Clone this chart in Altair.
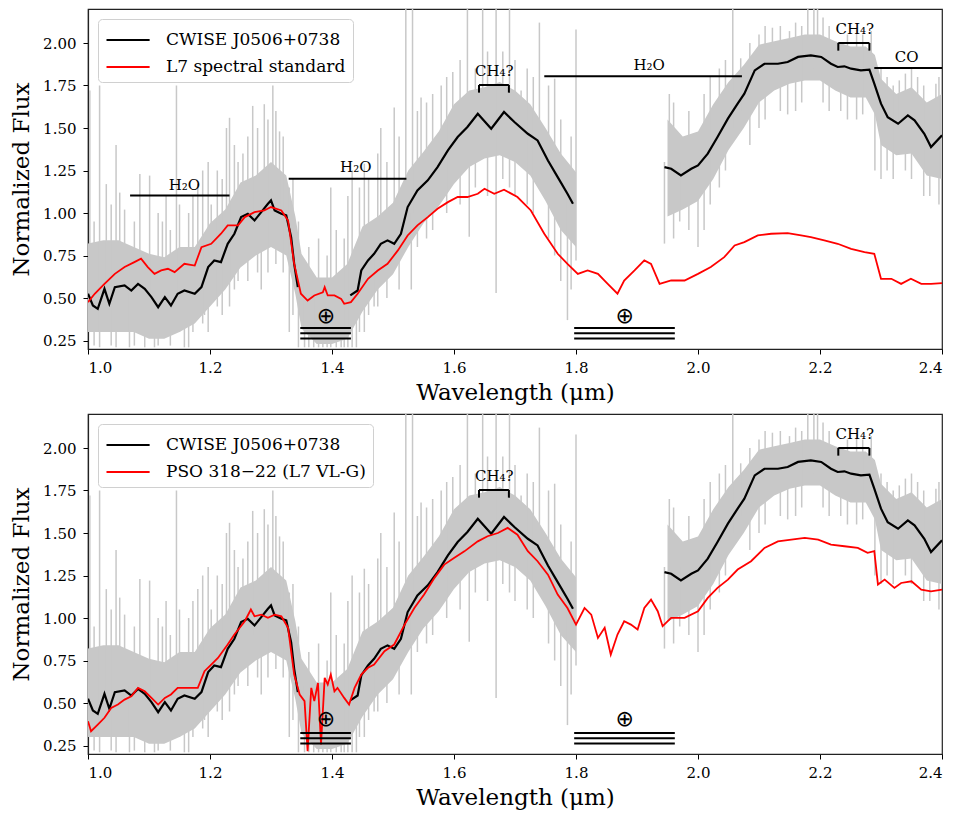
import altair as alt
import pandas as pd

FONT = "DejaVu Serif"

# ---------------- CWISE J0506+0738 (smoothed, black) ----------------
cw1_w = [1.000,1.008,1.016,1.027,1.035,1.044,1.060,1.071,1.082,1.093,1.104,1.115,1.126,1.136,1.147,1.158,1.175,1.186,1.197,1.207,1.218,1.229,1.240,1.251,1.262,1.273,1.284,1.295,1.300,1.306,1.317,1.325,1.333,1.338,1.344]
cw1_f = [0.525,0.456,0.436,0.554,0.466,0.564,0.574,0.544,0.583,0.554,0.505,0.446,0.505,0.456,0.525,0.544,0.525,0.564,0.682,0.721,0.711,0.819,0.878,0.976,0.995,0.956,1.005,1.054,1.074,1.015,0.995,0.986,0.858,0.701,0.564]
cw2_w = [1.430,1.442,1.448,1.459,1.469,1.480,1.491,1.502,1.513,1.524,1.540,1.557,1.573,1.590,1.606,1.622,1.639,1.661,1.682,1.699,1.721,1.737,1.754,1.770,1.786,1.795]
cw2_f = [0.515,0.544,0.662,0.721,0.760,0.819,0.839,0.819,0.878,1.035,1.133,1.192,1.270,1.368,1.447,1.506,1.584,1.496,1.594,1.535,1.466,1.427,1.309,1.211,1.113,1.054]
cw3_w = [1.945,1.956,1.972,1.989,2.000,2.016,2.032,2.049,2.065,2.076,2.093,2.109,2.131,2.147,2.164,2.185,2.202,2.218,2.229,2.240,2.251,2.267,2.281,2.289,2.300,2.311,2.328,2.344,2.355,2.371,2.382,2.400]
cw3_f = [1.270,1.260,1.221,1.260,1.280,1.349,1.447,1.555,1.643,1.702,1.839,1.878,1.878,1.888,1.918,1.927,1.918,1.878,1.859,1.863,1.849,1.839,1.843,1.761,1.643,1.564,1.525,1.574,1.545,1.466,1.388,1.457]

# ---------------- L7 spectral standard (red, top) ----------------
l7_w = [1.000,1.011,1.027,1.044,1.060,1.076,1.087,1.098,1.109,1.120,1.131,1.142,1.158,1.175,1.186,1.202,1.218,1.229,1.246,1.257,1.273,1.289,1.300,1.317,1.328,1.338,1.349,1.360,1.371,1.385,1.388,1.393,1.404,1.415,1.420,1.431,1.442,1.459,1.475,1.491,1.508,1.524,1.540,1.557,1.573,1.590,1.606,1.622,1.639,1.650,1.666,1.682,1.704,1.726,1.748,1.770,1.786,1.803,1.819,1.836,1.852,1.868,1.879,1.896,1.912,1.923,1.937,1.956,1.978,2.000,2.021,2.043,2.060,2.076,2.098,2.120,2.147,2.169,2.185,2.207,2.229,2.251,2.273,2.289,2.300,2.317,2.333,2.349,2.366,2.382,2.400]
l7_f = [0.476,0.525,0.583,0.642,0.682,0.711,0.731,0.682,0.642,0.662,0.672,0.652,0.701,0.691,0.799,0.819,0.878,0.927,0.927,0.976,1.005,1.015,1.035,1.015,0.956,0.701,0.525,0.485,0.515,0.534,0.564,0.515,0.515,0.495,0.466,0.476,0.525,0.613,0.662,0.701,0.780,0.868,0.927,0.976,1.025,1.064,1.094,1.094,1.113,1.143,1.113,1.137,1.094,1.015,0.878,0.760,0.701,0.642,0.662,0.642,0.583,0.525,0.603,0.662,0.721,0.701,0.583,0.603,0.603,0.642,0.682,0.740,0.809,0.829,0.868,0.878,0.882,0.868,0.858,0.839,0.819,0.789,0.770,0.760,0.613,0.613,0.583,0.613,0.583,0.583,0.587]

# ---------------- PSO 318-22 (red, bottom) ----------------
pso_w = [1.000,1.005,1.016,1.027,1.038,1.049,1.060,1.071,1.082,1.093,1.104,1.115,1.126,1.136,1.147,1.164,1.180,1.191,1.202,1.213,1.229,1.240,1.257,1.267,1.273,1.284,1.295,1.306,1.317,1.328,1.338,1.347,1.355,1.360,1.366,1.371,1.377,1.382,1.388,1.393,1.398,1.404,1.409,1.420,1.428,1.437,1.448,1.459,1.469,1.486,1.502,1.519,1.535,1.551,1.568,1.584,1.600,1.617,1.639,1.655,1.672,1.688,1.704,1.721,1.737,1.754,1.770,1.786,1.800,1.814,1.825,1.836,1.847,1.857,1.868,1.879,1.890,1.901,1.912,1.923,1.934,1.942,1.956,1.978,2.000,2.016,2.032,2.049,2.065,2.087,2.109,2.131,2.153,2.175,2.197,2.218,2.240,2.262,2.278,2.289,2.295,2.306,2.322,2.333,2.350,2.366,2.382,2.400]
pso_f = [0.393,0.334,0.373,0.413,0.471,0.491,0.520,0.540,0.589,0.569,0.530,0.491,0.530,0.550,0.589,0.589,0.589,0.687,0.726,0.765,0.844,0.903,0.981,1.050,1.010,1.020,1.001,1.020,1.010,0.942,0.667,0.550,0.511,0.217,0.589,0.511,0.618,0.256,0.648,0.609,0.667,0.569,0.589,0.530,0.491,0.589,0.667,0.707,0.726,0.805,0.844,0.961,1.059,1.138,1.236,1.314,1.353,1.392,1.451,1.481,1.500,1.530,1.490,1.393,1.334,1.255,1.138,1.059,0.961,1.059,1.020,0.883,0.942,0.785,0.903,0.981,0.961,0.932,1.059,1.108,1.040,0.952,1.001,1.001,1.040,1.118,1.177,1.226,1.285,1.334,1.412,1.451,1.461,1.471,1.461,1.432,1.422,1.412,1.383,1.393,1.197,1.226,1.177,1.206,1.216,1.167,1.157,1.167]

# ---------------- raw spectrum (grey): dense core envelope and spikes ----------------
raw_w =  [1.000,1.025,1.050,1.075,1.100,1.125,1.150,1.175,1.200,1.225,1.250,1.275,1.300,1.325,1.340,1.350,1.375,1.400,1.425,1.450,1.475,1.500,1.525,1.550,1.575,1.600,1.625,1.650,1.675,1.700,1.725,1.750,1.775,1.800,
          1.950,1.975,2.000,2.025,2.050,2.075,2.100,2.125,2.150,2.175,2.200,2.225,2.250,2.275,2.290,2.300,2.325,2.350,2.375,2.400]
raw_lo = [0.30,0.30,0.30,0.30,0.26,0.26,0.30,0.35,0.45,0.55,0.68,0.75,0.80,0.75,0.52,0.32,0.23,0.23,0.26,0.42,0.55,0.64,0.80,0.94,1.04,1.17,1.27,1.32,1.34,1.30,1.22,1.07,0.90,0.80,
          0.98,1.02,1.07,1.20,1.37,1.50,1.65,1.72,1.76,1.78,1.78,1.72,1.68,1.68,1.58,1.40,1.34,1.35,1.22,1.20]
raw_hi = [0.82,0.84,0.84,0.80,0.76,0.74,0.80,0.80,0.94,1.02,1.18,1.22,1.30,1.22,0.98,0.76,0.62,0.62,0.70,0.92,0.98,1.06,1.25,1.36,1.48,1.64,1.72,1.74,1.77,1.72,1.64,1.50,1.35,1.24,
          1.55,1.45,1.48,1.64,1.77,1.87,1.99,2.01,2.03,2.05,2.05,2.01,1.98,1.98,1.93,1.79,1.70,1.74,1.65,1.70]
raw_seg = [1]*34 + [2]*20

spike_w =  [1.003,1.010,1.019,1.030,1.038,1.046,1.052,1.060,1.068,1.076,1.085,1.093,1.101,1.109,1.115,1.122,1.128,1.135,1.145,1.150,1.158,1.165,1.172,1.180,1.188,1.191,1.197,1.202,1.212,1.220,1.227,1.232,1.240,1.246,1.254,1.262,1.270,1.278,1.284,1.289,1.295,1.303,1.308,1.314,1.320,1.330,1.336,
            1.345,1.355,1.362,1.370,1.378,1.385,1.392,1.398,1.407,1.415,1.420,1.426,1.433,1.440,
            1.445,1.453,1.460,1.469,1.475,1.480,1.490,1.502,1.510,1.521,1.530,1.532,1.540,1.546,1.555,1.565,1.579,1.588,1.598,1.610,1.622,1.625,1.635,1.647,1.655,1.669,1.680,1.691,1.700,1.710,1.720,1.730,1.740,1.755,1.765,1.775,1.786,1.792,1.800,
            1.945,1.953,1.960,1.970,1.985,2.000,2.010,2.020,2.035,2.045,2.057,2.070,2.085,2.100,2.110,2.122,2.135,2.147,2.150,2.160,2.170,2.180,2.190,2.196,2.205,2.215,2.234,2.245,2.260,2.270,2.284,2.290,2.300,2.310,2.320,2.330,2.340,2.350,2.360,2.370,2.380,2.390,2.395]
spike_lo = [0.55,0.22,0.21,0.50,0.22,0.21,0.30,0.50,0.21,0.22,0.50,0.21,0.50,0.21,0.22,0.30,0.40,0.22,0.50,0.30,0.21,0.21,0.30,0.50,0.35,0.40,0.30,0.60,0.45,0.40,0.70,0.45,0.55,0.60,0.90,0.60,0.90,0.65,0.55,1.00,0.65,1.00,0.70,1.00,0.65,0.30,0.40,
            0.21,0.21,0.21,0.21,0.21,0.21,0.21,0.21,0.21,0.21,0.21,0.21,0.21,0.21,
            0.30,0.30,0.40,0.45,0.45,0.60,0.50,0.80,0.55,0.90,0.55,1.00,0.80,1.10,0.85,0.90,1.20,1.00,1.30,1.05,1.30,0.86,1.15,1.50,1.10,0.53,1.20,1.15,1.10,1.40,1.05,1.00,1.30,0.85,0.75,0.60,0.37,0.55,0.72,
            0.82,1.20,0.85,0.95,0.90,0.80,0.90,1.05,1.15,1.25,1.50,1.60,1.40,1.50,1.55,1.80,1.60,1.58,1.85,1.60,1.65,1.85,1.85,1.85,1.65,1.60,1.60,1.55,1.55,1.58,1.80,1.25,1.20,1.25,1.20,1.50,1.25,1.20,1.50,1.10,1.10,1.40,1.05]
spike_hi = [1.72,0.95,1.75,1.17,1.05,1.40,1.12,1.02,0.60,0.95,1.23,0.60,1.22,0.50,1.00,0.95,1.10,0.90,1.75,1.05,0.60,1.00,1.10,1.17,1.25,0.80,1.30,1.05,1.25,1.20,1.50,1.56,1.40,1.30,1.35,1.45,1.63,1.50,1.00,1.64,1.55,1.75,1.60,1.48,1.45,1.15,1.20,
            0.95,0.60,0.80,0.50,0.85,0.60,0.75,1.15,0.90,0.60,0.85,1.10,1.25,0.60,
            1.15,1.29,1.20,0.80,1.35,1.50,1.30,1.62,1.45,2.20,1.00,2.20,1.60,1.68,1.65,1.70,1.75,1.80,1.83,1.90,2.20,1.40,1.85,2.20,1.95,2.20,1.95,2.20,1.90,1.72,1.85,1.80,2.12,1.75,1.79,1.55,1.10,1.45,2.08,
            1.30,1.70,1.65,1.30,1.60,1.30,1.70,1.80,1.85,1.90,2.20,1.91,2.00,2.05,2.10,2.09,2.10,1.90,2.07,2.12,2.10,2.20,2.20,2.20,2.15,2.10,1.90,2.05,2.08,2.05,2.07,1.70,1.85,1.80,1.75,1.78,1.82,1.85,1.80,1.75,1.50,1.76,1.80]

# ---------------- annotations ----------------
bar_x1 = [1.069, 1.329, 1.748, 2.289]
bar_x2 = [1.232, 1.522, 2.072, 2.400]
bar_y  = [1.103, 1.201, 1.804, 1.853]
bar_txt = ["H\u2082O", "H\u2082O", "H\u2082O", "CO"]
bar_tx = [1.158, 1.439, 1.920, 2.342]
bar_ty = [1.165, 1.268, 1.868, 1.918]
br_x1 = [1.641, 2.230]
br_x2 = [1.690, 2.281]
br_y_top = [1.753, 2.000]
br_y_bot = [1.708, 1.955]
br_tx = [1.666, 2.257]
br_ty = [1.833, 2.080]
br_txt = ["CH\u2084?", "CH\u2084?"]
tel_x1 = [1.348, 1.797]
tel_x2 = [1.431, 1.962]
tel_y = [0.324, 0.293, 0.262]
tel_sym_x = [1.390, 1.880]
tel_sym_y_top = 0.397
tel_sym_y_bot = 0.403

BLACK_LABEL = "CWISE J0506+0738"

XS = alt.Scale(domain=[1.0, 2.4], nice=False, zero=False)
YS = alt.Scale(domain=[0.2, 2.2], nice=False, zero=False)
GREY = "#c8c8c8"


def xax():
    return alt.Axis(values=[1.0, 1.2, 1.4, 1.6, 1.8, 2.0, 2.2, 2.4], format=".1f",
                    title="Wavelength (\u03bcm)", grid=False)


def yax():
    return alt.Axis(values=[0.25, 0.5, 0.75, 1.0, 1.25, 1.5, 1.75, 2.0], format=".2f",
                    title="Normalized Flux", grid=False)


def panel(red_w, red_f, red_label, top):
    band = pd.DataFrame({"w": raw_w, "lo": raw_lo, "hi": raw_hi, "seg": raw_seg})
    spikes = pd.DataFrame({"w": spike_w, "lo": spike_lo, "hi": spike_hi})
    cw = pd.DataFrame({
        "w": cw1_w + cw2_w + cw3_w,
        "f": cw1_f + cw2_f + cw3_f,
        "seg": [1]*len(cw1_w) + [2]*len(cw2_w) + [3]*len(cw3_w),
        "series": BLACK_LABEL,
    })
    red = pd.DataFrame({"w": red_w, "f": red_f, "series": red_label})

    color = alt.Color("series:N",
                      scale=alt.Scale(domain=[BLACK_LABEL, red_label], range=["black", "red"]),
                      legend=alt.Legend(title=None, orient="top-left", offset=10,
                                        symbolType="M-1,0H2.45", symbolStrokeWidth=2.2,
                                        symbolSize=625, labelFont=FONT, labelFontSize=17,
                                        labelColor="black", labelLimit=500, rowPadding=5,
                                        padding=7, fillColor="white", strokeColor="#d0d0d0",
                                        cornerRadius=4, labelOffset=33))

    l_band = alt.Chart(band).mark_area(color=GREY, clip=True).encode(
        x=alt.X("w:Q", scale=XS, axis=xax()),
        y=alt.Y("lo:Q", scale=YS, axis=yax()),
        y2="hi:Q",
        detail="seg:N",
    )
    l_spk = alt.Chart(spikes).mark_rule(color=GREY, strokeWidth=1.5, clip=True).encode(
        x="w:Q", y="lo:Q", y2="hi:Q")
    l_cw = alt.Chart(cw).mark_line(strokeWidth=2.2, clip=True).encode(
        x="w:Q", y="f:Q", color=color, detail="seg:N")
    l_red = alt.Chart(red).mark_line(strokeWidth=1.8, clip=True).encode(
        x="w:Q", y="f:Q", color=color)

    layers = [l_band, l_spk, l_cw, l_red]

    br = pd.DataFrame({"x1": br_x1, "x2": br_x2, "yt": br_y_top, "yb": br_y_bot,
                       "tx": br_tx, "ty": br_ty, "t": br_txt})
    layers.append(alt.Chart(br).mark_rule(color="black", strokeWidth=2).encode(
        x="x1:Q", x2="x2:Q", y="yt:Q"))
    layers.append(alt.Chart(br).mark_rule(color="black", strokeWidth=2).encode(
        x="x1:Q", y="yt:Q", y2="yb:Q"))
    layers.append(alt.Chart(br).mark_rule(color="black", strokeWidth=2).encode(
        x="x2:Q", y="yt:Q", y2="yb:Q"))
    layers.append(alt.Chart(br).mark_text(font=FONT, fontSize=15, color="black",
                                          baseline="middle", align="center").encode(
        x="tx:Q", y="ty:Q", text="t:N"))

    if top:
        bars = pd.DataFrame({"x1": bar_x1, "x2": bar_x2, "y": bar_y,
                             "tx": bar_tx, "ty": bar_ty, "t": bar_txt})
        layers.append(alt.Chart(bars).mark_rule(color="black", strokeWidth=2).encode(
            x="x1:Q", x2="x2:Q", y="y:Q"))
        layers.append(alt.Chart(bars).mark_text(font=FONT, fontSize=15, color="black",
                                                baseline="middle", align="center").encode(
            x="tx:Q", y="ty:Q", text="t:N"))

    tel = pd.DataFrame([{"x1": a, "x2": b, "y": y} for a, b in zip(tel_x1, tel_x2) for y in tel_y])
    layers.append(alt.Chart(tel).mark_rule(color="black", strokeWidth=2).encode(
        x="x1:Q", x2="x2:Q", y="y:Q"))
    sym = pd.DataFrame({"x": tel_sym_x,
                        "y": [tel_sym_y_top if top else tel_sym_y_bot]*2,
                        "t": ["\u2295", "\u2295"]})
    layers.append(alt.Chart(sym).mark_text(font="DejaVu Sans", fontSize=22, color="black",
                                           baseline="middle", align="center").encode(
        x="x:Q", y="y:Q", text="t:N"))

    return alt.layer(*layers).properties(width=854, height=340)


top_chart = panel(l7_w, l7_f, "L7 spectral standard", True)
bot_chart = panel(pso_w, pso_f, "PSO 318\u221222 (L7 VL-G)", False)

chart = alt.vconcat(top_chart, bot_chart, spacing=8).resolve_scale(
    color="independent").resolve_legend(color="independent").properties(
    padding={"left": 2, "top": 0, "right": 5, "bottom": 2}
).configure_view(stroke="#222222", strokeWidth=1.2).configure_axis(
    labelFont=FONT, labelFontSize=15, labelColor="black", titleFont=FONT,
    titleFontSize=23, titleFontWeight="normal", titleColor="black",
    tickColor="black", tickSize=5, domainColor="#222222", domainWidth=1.2,
    labelPadding=6, titlePadding=6
).configure_axisY(labelPadding=7, titlePadding=9)

chart.save("out.html", embed_options={"renderer": "svg", "actions": False})
